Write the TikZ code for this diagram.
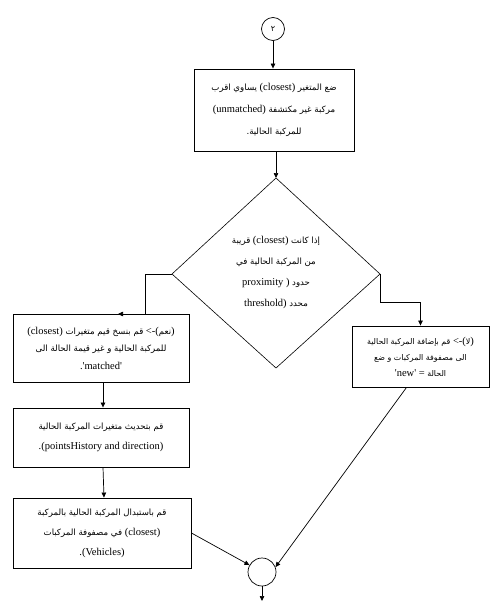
\documentclass[tikz,border=0pt]{standalone}
\usepackage{fontspec}
\setmainfont{Liberation Serif}
\newfontfamily\arabicfont[Script=Arabic]{DejaVu Sans}
\TeXXeTstate=1
\usetikzlibrary{arrows.meta}
\newcommand\arsize{8.6}
\newcommand\AR[1]{{\arabicfont\fontsize{\arsize}{9}\selectfont\beginR #1\endR}}
\newcommand\q{\textquotesingle}
\begin{document}
\begin{tikzpicture}[x=1pt,y=-1pt,
  box/.style={draw, line width=0.9pt, inner sep=0pt, align=center},
  arr/.style={-{Triangle[length=5pt,width=4.5pt]}, line width=0.7pt},
  ln/.style={line width=0.7pt}]
\useasboundingbox (0,0) rectangle (495,610);
\fill[white] (0,0) rectangle (495,610);

% top connector circle
\node[circle, draw, line width=0.7pt, minimum size=23pt, inner sep=0pt,
      font=\arabicfont\fontsize{8}{9}\selectfont] (c1) at (273,29) {٢};

% first box
\node[box, minimum width=160pt, minimum height=82pt, font=\fontsize{10.5}{22}\selectfont] (b1) at (274,110)
 {\AR{يساوي اقرب} (closest) \AR{ضع المتغير}\\
  (unmatched) \AR{مركبة غير مكتشفة}\\
  \AR{للمركبة الحالية.}};

% decision diamond
\coordinate (dt) at (276,178);
\coordinate (dr) at (380,274);
\coordinate (db) at (276,368);
\coordinate (dl) at (172,274);
\draw[line width=0.6pt] (dt) -- (dr) -- (db) -- (dl) -- cycle;
\node[align=center, font=\fontsize{10.5}{21}\selectfont] (dtext) at (276,272)
 {\AR{قريبة} (closest) \AR{إذا كانت}\\
  \AR{من المركبة الحالية في}\\
  proximity ) \AR{حدود}\\
  threshold) \AR{محدد}};

% left branch boxes
\node[box, minimum width=176pt, minimum height=68pt, font=\fontsize{10.5}{17.5}\selectfont] (l1) at (101,348)
 {(closest) \AR{قم بنسخ قيم متغيرات} <-(\AR{نعم})\\
  \AR{للمركبة الحالية و غير قيمة الحالة الى}\\
  .\q matched\q};
\node[box, minimum width=176pt, minimum height=59pt, font=\fontsize{10.5}{20}\selectfont] (l2) at (101,437.5)
 {\AR{قم بتحديث متغيرات المركبة الحالية}\\
  .(pointsHistory and direction)};
\node[box, minimum width=178pt, minimum height=70pt, font=\fontsize{10.5}{20}\selectfont] (l3) at (102,533)
 {\AR{قم باستبدال المركبة الحالية بالمركبة}\\
  \AR{في مصفوفة المركبات} (closest)\\
  .(Vehicles)};

% right branch box
\node[box, minimum width=137pt, minimum height=61pt, font=\fontsize{10.5}{16}\selectfont] (r) at (420.5,356.5)
 {\renewcommand\arsize{7.9}\AR{قم بإضافة المركبة الحالية} <-(\AR{لا})\\
  \renewcommand\arsize{7.9}\AR{الى مصفوفة المركبات و ضع}\\
  \renewcommand\arsize{7.9}\q new\q\ = \AR{الحالة}};

% merge circle
\node[circle, draw, line width=0.7pt, minimum size=28pt, inner sep=0pt] (c2) at (262,572) {};
\coordinate (end) at (262,601);

% connectors
\draw[arr] (c1.south) -- (c1.south |- b1.north);
\draw[arr] (b1.south -| dt) -- (dt);
\coordinate (lj) at (145,274);
\coordinate (lk) at (145,314);
\coordinate (la) at (118,314);
\draw[arr] (dl) -- (lj) -- (lk) -- (la);
\coordinate (rj) at (380,302);
\coordinate (rk) at (420.5,302);
\draw[arr] (dr) -- (rj) -- (rk) -- (r.north);
\draw[arr] ([xshift=2pt]l1.south) -- ([xshift=2pt]l2.north);
\draw[arr] ([xshift=2pt]l2.south) -- ([xshift=2pt]l3.north);
\draw[arr] (l3.east) -- (c2);
\draw[arr] ([xshift=-14pt]r.south) -- (c2.20);
\draw[arr] (c2.south) -- (end);
\end{tikzpicture}
\end{document}
